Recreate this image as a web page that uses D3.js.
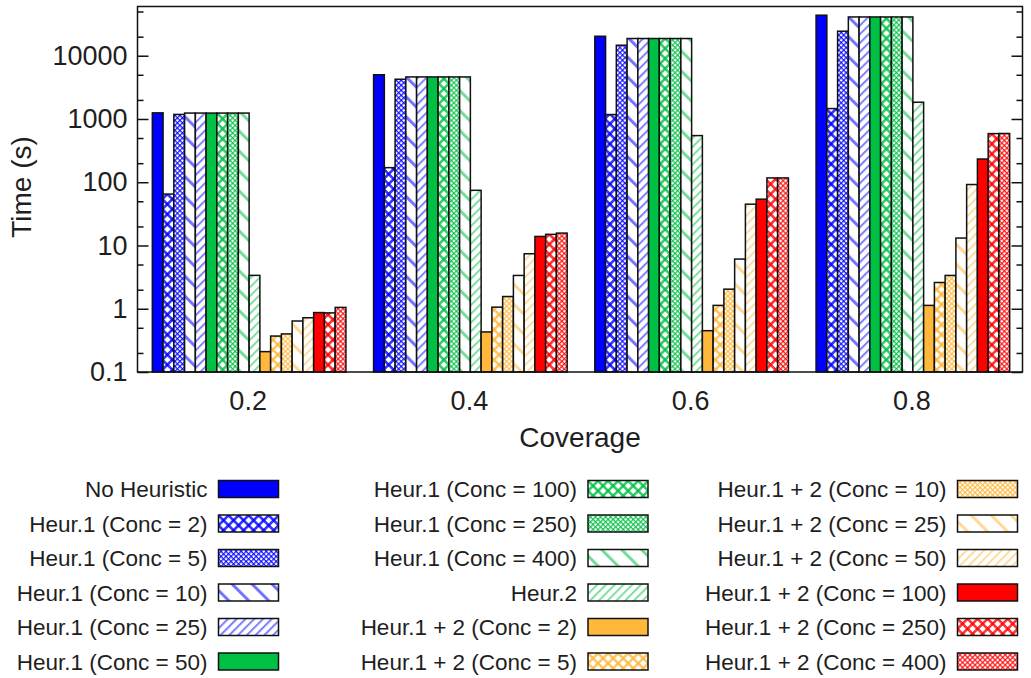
<!DOCTYPE html>
<html>
<head>
<meta charset="utf-8">
<style>
	body { margin: 0; background: #fff; }
	text { font-family: "Liberation Sans", Arial, sans-serif; fill: #1e1e1e; }
</style>
<title>Coverage vs time</title>
</head>
<body>
<script src="https://cdn.jsdelivr.net/npm/d3@7/dist/d3.min.js"></script>
<script>

// data
var coverage = ["0.2", "0.4", "0.6", "0.8"];

var seriesNames = [
	"No Heuristic", "Heur.1 (Conc = 2)", "Heur.1 (Conc = 5)", "Heur.1 (Conc = 10)",
	"Heur.1 (Conc = 25)", "Heur.1 (Conc = 50)", "Heur.1 (Conc = 100)", "Heur.1 (Conc = 250)",
	"Heur.1 (Conc = 400)", "Heur.2", "Heur.1 + 2 (Conc = 2)", "Heur.1 + 2 (Conc = 5)",
	"Heur.1 + 2 (Conc = 10)", "Heur.1 + 2 (Conc = 25)", "Heur.1 + 2 (Conc = 50)",
	"Heur.1 + 2 (Conc = 100)", "Heur.1 + 2 (Conc = 250)", "Heur.1 + 2 (Conc = 400)"
];

var noHeuristic = [1250, 5000, 20300, 43700];
var h1c2   = [65, 170, 1175, 1460];
var h1c5   = [1180, 4250, 14650, 24400];
var h1c10  = [1240, 4620, 18700, 41000];
var h1c25  = [1240, 4620, 18700, 41000];
var h1c50  = [1240, 4620, 18700, 41000];
var h1c100 = [1240, 4620, 18700, 41000];
var h1c250 = [1240, 4620, 18700, 41000];
var h1c400 = [1240, 4620, 18700, 41000];
var heur2  = [3.37, 74.5, 546, 1840];
var h12c2   = [0.21, 0.43, 0.45, 1.13];
var h12c5   = [0.37, 1.06, 1.13, 2.6];
var h12c10  = [0.40, 1.56, 2.04, 3.36];
var h12c25  = [0.64, 3.36, 6.1, 13.1];
var h12c50  = [0.72, 7.4, 45, 92];
var h12c100 = [0.87, 13.9, 54, 233];
var h12c250 = [0.86, 15.0, 117, 587];
var h12c400 = [1.05, 15.7, 117, 590];

var seriesValues = [noHeuristic, h1c2, h1c5, h1c10, h1c25, h1c50, h1c100, h1c250, h1c400,
	heur2, h12c2, h12c5, h12c10, h12c25, h12c50, h12c100, h12c250, h12c400];

var yTicks = [0.1, 1, 10, 100, 1000, 10000];

// styles
var blue = "#0000ff", green = "#00c044", orange = "#ffb83c", red = "#ff0000";
var seriesColor = [blue, blue, blue, blue, blue, green, green, green, green, green,
	orange, orange, orange, orange, orange, red, red, red];
var seriesFill = ["solid", "bigx", "finex", "back", "fwd", "solid", "bigx", "finex", "back", "fwd",
	"solid", "bigx", "finex", "back", "fwd", "solid", "bigx", "finex"];

var W = 1031, H = 678;
var margin = {top: 6.5, right: 8.5, bottom: 306, left: 137.5};
var width = W - margin.left - margin.right;
var height = H - margin.top - margin.bottom;

var svg = d3.select("body").append("svg")
	.attr("width", W)
	.attr("height", H);

var defs = svg.append("defs");

function makePattern(id, kind, color) {
	var p = defs.append("pattern").attr("id", id).attr("patternUnits", "userSpaceOnUse");
	var d, lw, op;
	if (kind == "bigx") { d = 7.1; lw = 2.6; op = 0.8; }
	if (kind == "finex") { d = 3.55; lw = 1.3; op = 0.85; }
	if (kind == "back") { d = 14.1; lw = 3; op = 0.55; }
	if (kind == "fwd") { d = 6.2; lw = 2; op = 0.5; }
	p.attr("width", d).attr("height", d)
		.attr("patternTransform", "rotate(" + (kind == "back" ? -45 : 45) + ")");
	p.append("rect").attr("width", d).attr("height", d).attr("fill", "#fff");
	p.append("rect").attr("x", 0).attr("y", 0).attr("width", lw).attr("height", d)
		.attr("fill", color).attr("fill-opacity", op);
	if (kind == "bigx" || kind == "finex") {
		p.append("rect").attr("x", 0).attr("y", 0).attr("width", d).attr("height", lw)
			.attr("fill", color).attr("fill-opacity", op);
	}
}

var fillOf = seriesFill.map(function(k, i) {
	if (k == "solid") return seriesColor[i];
	makePattern("pat" + i, k, seriesColor[i]);
	return "url(#pat" + i + ")";
});

var g = svg.append("g")
	.attr("transform", "translate(" + margin.left + "," + margin.top + ")");

var x0 = d3.scaleBand().domain(coverage).range([0, width]).paddingInner(0).paddingOuter(0);
var x1 = d3.scaleBand().domain(d3.range(seriesNames.length))
	.range([0, x0.bandwidth() * 0.875]);
var y = d3.scaleLog().domain([0.1, 60000]).range([height, 0]);

// bars
var groups = g.selectAll("g.grp").data(coverage).enter().append("g")
	.attr("class", "grp")
	.attr("transform", function(d) {
		return "translate(" + (x0(d) + x0.bandwidth() * 0.0625 + 1) + ",0)";
	});

groups.selectAll("rect")
	.data(function(d, gi) {
		return seriesValues.map(function(vals, si) { return {s: si, v: vals[gi]}; });
	})
	.enter().append("rect")
	.attr("x", function(d) { return x1(d.s); })
	.attr("width", x1.bandwidth())
	.attr("y", function(d) { return y(d.v); })
	.attr("height", function(d) { return height - y(d.v); })
	.attr("fill", function(d) { return fillOf[d.s]; })
	.attr("stroke", "#111")
	.attr("stroke-width", 1.5);

// axes, ticks inward on both sides
var minor = [];
for (var e = -1; e <= 4; e++) {
	[2, 5].forEach(function(m) {
		var v = m * Math.pow(10, e);
		if (v < 60000) minor.push(v);
	});
}

var leftAxis = d3.axisLeft(y).tickValues(yTicks).tickSize(-11).tickPadding(10)
	.tickFormat(d3.format("~g"));
g.append("g").attr("class", "yaxis").call(leftAxis)
	.call(function(a) { a.select(".domain").remove(); })
	.selectAll("text").attr("font-size", "27px").attr("font-family", "Liberation Sans, Arial, sans-serif")
	.attr("fill", "#1e1e1e");

g.append("g").call(d3.axisLeft(y).tickValues(minor).tickSize(-6).tickFormat(""))
	.call(function(a) { a.select(".domain").remove(); });
g.append("g").attr("transform", "translate(" + width + ",0)")
	.call(d3.axisRight(y).tickValues(yTicks).tickSize(-11).tickFormat(""))
	.call(function(a) { a.select(".domain").remove(); });
g.append("g").attr("transform", "translate(" + width + ",0)")
	.call(d3.axisRight(y).tickValues(minor).tickSize(-6).tickFormat(""))
	.call(function(a) { a.select(".domain").remove(); });

g.selectAll(".tick line").attr("stroke", "#111").attr("stroke-width", 1.5);

var xAxis = d3.axisBottom(x0).tickSize(0).tickPadding(19);
g.append("g").attr("transform", "translate(0," + height + ")").call(xAxis)
	.call(function(a) { a.select(".domain").remove(); })
	.selectAll("text").attr("font-size", "27px").attr("font-family", "Liberation Sans, Arial, sans-serif")
	.attr("fill", "#1e1e1e");

// frame
g.append("rect").attr("width", width).attr("height", height)
	.attr("fill", "none").attr("stroke", "#111").attr("stroke-width", 1.5);

// axis titles
svg.append("text")
	.attr("transform", "translate(31,187) rotate(-90)")
	.attr("text-anchor", "middle")
	.attr("font-size", "28px")
	.text("Time (s)");

svg.append("text")
	.attr("x", margin.left + width / 2)
	.attr("y", 447)
	.attr("text-anchor", "middle")
	.attr("font-size", "28px")
	.text("Coverage");

// legend: three columns of six
var colSwatchX = [218.5, 588, 957.5];
var legend = svg.append("g").selectAll("g").data(seriesNames).enter().append("g")
	.attr("transform", function(d, i) {
		var c = Math.floor(i / 6), r = i % 6;
		return "translate(" + colSwatchX[c] + "," + (489 + r * 34.5) + ")";
	});

legend.append("rect")
	.attr("x", 0).attr("y", -8.5)
	.attr("width", 60).attr("height", 17)
	.attr("fill", function(d, i) { return fillOf[i]; })
	.attr("stroke", "#111").attr("stroke-width", 1.5);

legend.append("text")
	.attr("x", -11).attr("y", 0)
	.attr("dy", "0.36em")
	.attr("text-anchor", "end")
	.attr("font-size", "22.5px")
	.text(function(d) { return d; });

</script>
</body>
</html>
